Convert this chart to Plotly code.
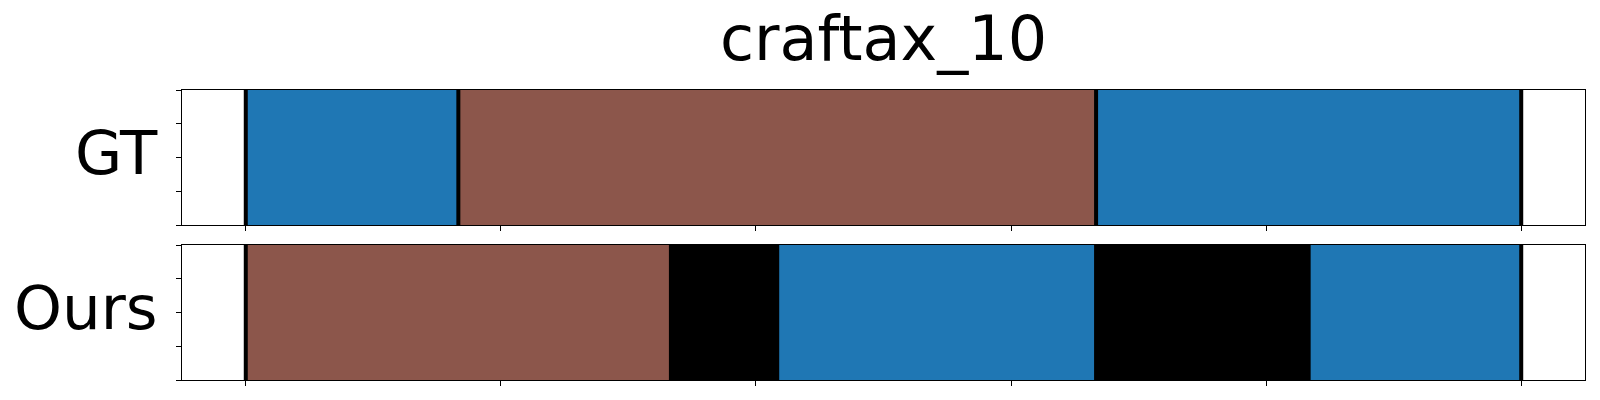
import plotly.graph_objects as go

# ---- data ----
title_text = "craftax_10"
row_labels = ["GT", "Ours"]
x_max = 60
x_ticks = [0, 12, 24, 36, 48, 60]
y_ticks = [0, 0.25, 0.5, 0.75, 1.0]

gt_starts = [0, 10, 40]
gt_ends = [10, 40, 60]
gt_colors = ["#1f77b4", "#8c564b", "#1f77b4"]
gt_marks = [0, 10, 40, 60]

ours_starts = [0, 20, 25, 40, 50]
ours_ends = [20, 25, 40, 50, 60]
ours_colors = ["#8c564b", "#000000", "#1f77b4", "#000000", "#1f77b4"]
ours_marks = [0, 60]

fig = go.Figure()

rows = [
    ("x", "y", gt_starts, gt_ends, gt_colors, gt_marks),
    ("x2", "y2", ours_starts, ours_ends, ours_colors, ours_marks),
]
for xa, ya, starts, ends, colors, marks in rows:
    segs = list(zip(starts, ends, colors))
    # coloured segments first, black (edged) segments on top
    ordered = [s for s in segs if s[2] != "#000000"] + [s for s in segs if s[2] == "#000000"]
    for s, e, c in ordered:
        edge = dict(width=4, color="black") if c == "#000000" else dict(width=0)
        fig.add_trace(go.Bar(
            x=[e - s], base=[s], y=[0.5], width=[1.0], orientation="h",
            marker=dict(color=c, line=edge),
            xaxis=xa, yaxis=ya, showlegend=False, hoverinfo="skip",
        ))
    lx, ly = [], []
    for m in marks:
        lx += [m, m, None]
        ly += [0, 1, None]
    fig.add_trace(go.Scatter(
        x=lx, y=ly, mode="lines", line=dict(color="black", width=4),
        xaxis=xa, yaxis=ya, showlegend=False, hoverinfo="skip", cliponaxis=True,
    ))

pad = 0.05 * x_max
xcommon = dict(range=[-pad, x_max + pad], tickvals=x_ticks, showticklabels=False,
               ticks="outside", ticklen=5, tickwidth=1, tickcolor="black",
               showline=True, linecolor="black", linewidth=1.3, mirror=True,
               showgrid=False, zeroline=False, fixedrange=True)
ycommon = dict(range=[0, 1], tickvals=y_ticks, showticklabels=False,
               ticks="outside", ticklen=5, tickwidth=1, tickcolor="black",
               showline=True, linecolor="black", linewidth=1.3, mirror=True,
               showgrid=False, zeroline=False, fixedrange=True)

gt_dom = [0.5345, 1.0]
ours_dom = [0.0, 0.4655]

fig.update_layout(
    width=1600, height=400,
    margin=dict(l=182, r=15, t=90, b=20),
    paper_bgcolor="white", plot_bgcolor="white",
    barmode="overlay",
    font=dict(family="DejaVu Sans", color="black"),
    xaxis=dict(**xcommon, anchor="y"),
    yaxis=dict(**ycommon, domain=gt_dom, anchor="x"),
    xaxis2=dict(**xcommon, anchor="y2"),
    yaxis2=dict(**ycommon, domain=ours_dom, anchor="x2"),
)

annots = [
    dict(text=title_text, xref="paper", yref="paper", x=0.5, y=1.0,
         xanchor="center", yanchor="bottom", yshift=13, showarrow=False,
         font=dict(size=62, family="DejaVu Sans", color="black")),
]
for lbl, dom in zip(row_labels, [gt_dom, ours_dom]):
    annots.append(dict(text=lbl, xref="paper", yref="paper", x=0,
                       y=(dom[0] + dom[1]) / 2, xanchor="right", yanchor="middle",
                       xshift=-22, yshift=5, showarrow=False,
                       font=dict(size=61, family="DejaVu Sans", color="black")))
fig.update_layout(annotations=annots)

fig.write_html("out.html",
               config={"displayModeBar": False, "staticPlot": True},
               post_script="document.body.style.margin='0';document.body.style.overflow='hidden';")
